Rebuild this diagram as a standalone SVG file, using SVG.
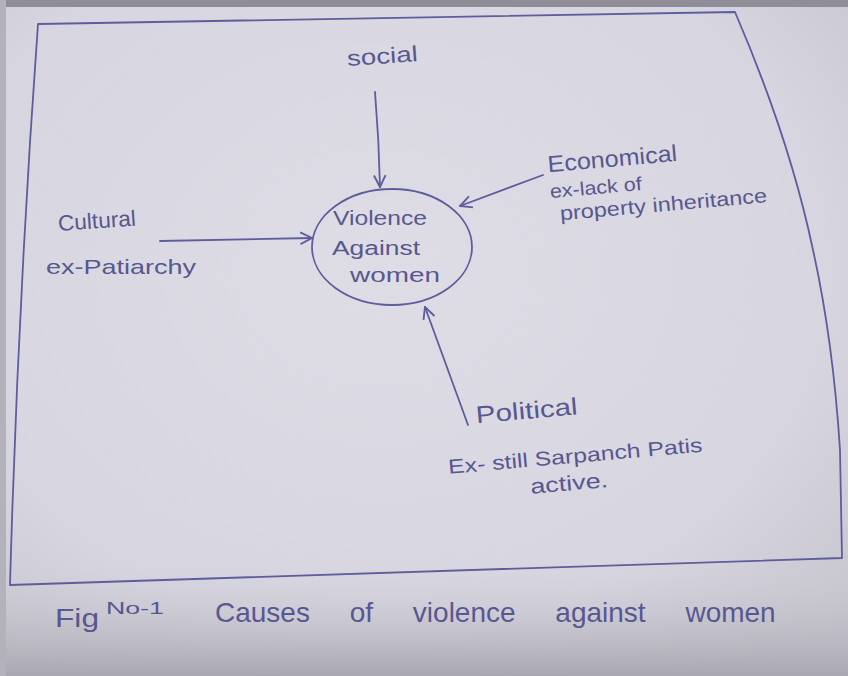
<svg xmlns="http://www.w3.org/2000/svg" width="848" height="676" viewBox="0 0 848 676">
<defs>
<radialGradient id="paper" cx="0.45" cy="0.4" r="0.75">
<stop offset="0" stop-color="#dedde6"/>
<stop offset="0.7" stop-color="#d7d6e0"/>
<stop offset="1" stop-color="#c6c5ce"/>
</radialGradient>
<linearGradient id="bottom" x1="0" y1="0" x2="0" y2="1">
<stop offset="0" stop-color="#d2d1da" stop-opacity="0"/>
<stop offset="1" stop-color="#a9a8b2" stop-opacity="1"/>
</linearGradient>
<marker id="arr" viewBox="0 0 12 12" refX="11" refY="6" markerWidth="14" markerHeight="14" markerUnits="userSpaceOnUse" orient="auto">
<path d="M1,1 L11,6 L1,11" fill="none" stroke="#5e5d9c" stroke-width="1.6"/>
</marker>
<style>
.ink{fill:none;stroke:#5e5d9c;stroke-width:1.8;stroke-linecap:round;stroke-linejoin:round}
.t{font-family:"Liberation Sans","DejaVu Sans",sans-serif;fill:#58578f}
</style>
</defs>
<rect width="848" height="676" fill="url(#paper)"/>
<rect x="0" y="560" width="848" height="116" fill="url(#bottom)"/>
<rect x="0" y="0" width="848" height="7" fill="#8e8d98"/>
<rect x="0" y="0" width="6" height="676" fill="#b3b2bb"/>
<path class="ink" d="M38,24 L735,12 Q790,140 813,250 Q833,340 840,450 L842,558 L10,585 Q18,300 38,24 Z"/>
<g id="connectors">
<path class="ink" d="M375,92 Q379,140 380,187" marker-end="url(#arr)"/>
<path class="ink" d="M543,175 L460,206" marker-end="url(#arr)"/>
<path class="ink" d="M160,241 L312,238" marker-end="url(#arr)"/>
<path class="ink" d="M468,425 L425,307" marker-end="url(#arr)"/>
</g>
<g id="center">
<ellipse class="ink" cx="392" cy="247" rx="80" ry="58"/>
<text class="t" x="333" y="225" font-size="20" textLength="94" lengthAdjust="spacingAndGlyphs">Violence</text>
<text class="t" x="332" y="255" font-size="20" textLength="88" lengthAdjust="spacingAndGlyphs">Against</text>
<text class="t" x="350" y="282" font-size="20" textLength="90" lengthAdjust="spacingAndGlyphs">women</text>
</g>
<g id="social">
<text class="t" x="347" y="66" font-size="22" textLength="71" lengthAdjust="spacingAndGlyphs" transform="rotate(-4 347 60)">social</text>
</g>
<g id="economical" transform="rotate(-5 550 170)">
<text class="t" x="548" y="172" font-size="23" textLength="130" lengthAdjust="spacingAndGlyphs">Economical</text>
<text class="t" x="548" y="198" font-size="19" textLength="92" lengthAdjust="spacingAndGlyphs">ex-lack of</text>
<text class="t" x="556" y="221" font-size="20" textLength="208" lengthAdjust="spacingAndGlyphs">property inheritance</text>
</g>
<g id="cultural">
<text class="t" x="58" y="231" font-size="22" textLength="78" lengthAdjust="spacingAndGlyphs" transform="rotate(-4 58 224)">Cultural</text>
<text class="t" x="46" y="274" font-size="21" textLength="150" lengthAdjust="spacingAndGlyphs">ex-Patiarchy</text>
</g>
<g id="political" transform="rotate(-5 480 440)">
<text class="t" x="478" y="423" font-size="24" textLength="102" lengthAdjust="spacingAndGlyphs">Political</text>
<text class="t" x="446" y="471" font-size="20" textLength="255" lengthAdjust="spacingAndGlyphs">Ex- still Sarpanch Patis</text>
<text class="t" x="526" y="498" font-size="21" textLength="78" lengthAdjust="spacingAndGlyphs">active.</text>
</g>
<g id="caption">
<text class="t" x="55" y="627" font-size="26" textLength="44" lengthAdjust="spacingAndGlyphs">Fig</text>
<text class="t" x="106" y="614" font-size="17" textLength="58" lengthAdjust="spacingAndGlyphs">No-1</text>
<text class="t" x="215" y="622" font-size="28" word-spacing="32">Causes of violence against women</text>
</g>
</svg>
